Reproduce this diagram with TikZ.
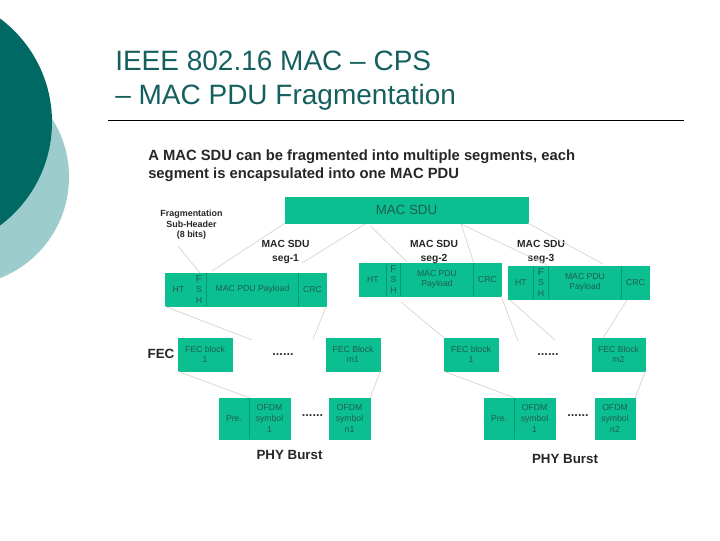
\documentclass[tikz,border=0pt]{standalone}
\usepackage{fontspec}
\setmainfont{Liberation Sans}
\definecolor{darkteal}{HTML}{006964}
\definecolor{paleteal}{HTML}{9CCCCC}
\definecolor{boxgreen}{HTML}{0CBF90}
\definecolor{boxedge}{HTML}{009C76}
\definecolor{boxtext}{HTML}{1E5F50}
\definecolor{linkgrey}{HTML}{D8D2CA}
\definecolor{titleink}{HTML}{15605F}
\tikzset{
  pdubox/.style={draw=boxgreen,fill=boxgreen,line width=0.4pt,inner sep=0pt,align=center,
    text=boxtext,font=\fontsize{6.5}{8}\selectfont},
  caption/.style={align=center,inner sep=0pt,font=\fontsize{7.7}{10}\bfseries\selectfont,text=black!85},
  link/.style={draw=linkgrey,line width=0.5pt},
  divider/.style={draw=boxedge,line width=0.5pt},
  gapdots/.style={inner sep=0pt,font=\fontsize{9.5}{10}\bfseries\selectfont,text=black!80},
  titleline/.style={anchor=base west,inner sep=0pt,text=titleink,font=\fontsize{21}{24}\selectfont},
  introline/.style={anchor=base west,inner sep=0pt,font=\fontsize{11.1}{13}\bfseries\selectfont,text=black!85},
}
\newcommand{\fshtext}{\fontsize{7.5}{8.8}\selectfont F\\S\\H}
% box given by its pixel corners: name, x0, y0, x1, y1, text
\newcommand{\pixbox}[6]{%
  \pgfmathsetmacro{\bw}{(#4-#2)*0.75}%
  \pgfmathsetmacro{\bh}{(#5-#3)*0.75}%
  \node[pdubox,minimum width=\bw pt,minimum height=\bh pt] (#1) at ({(#2+#4)/2},{(#3+#5)/2}) {#6};%
}
\begin{document}
\begin{tikzpicture}[x=0.75pt,y=-0.75pt]
\useasboundingbox (0,0) rectangle (720,540);

% Background discs
\begin{scope}
\clip (0,0) rectangle (720,540);
\fill[paleteal] (-39.5,177) circle[radius=81.4pt];
\fill[darkteal] (-77,122) circle[radius=96.75pt];
\end{scope}

% Title
\node[titleline] (title1) at (115,70) {IEEE 802.16 MAC – CPS};
\node[titleline] (title2) at (115,104) {– MAC PDU Fragmentation};
\coordinate (ruleL) at (108,120.5);
\coordinate (ruleR) at (684,120.5);
\draw[black,line width=0.6pt] (ruleL) -- (ruleR);

% Intro text
\node[introline] (introa) at (148,160) {A MAC SDU can be fragmented into multiple segments, each};
\node[introline] (introb) at (148,178) {segment is encapsulated into one MAC PDU};

% MAC SDU
\pixbox{sdu}{285}{197}{528}{223}{\fontsize{10}{11}\selectfont MAC SDU}

% Segment 1
\pixbox{aht}{165}{273}{192}{306}{HT}
\pixbox{afsh}{192}{273}{206}{306}{\fshtext}
\pixbox{apay}{206}{273}{299}{306}{MAC PDU Payload}
\pixbox{acrc}{299}{273}{326}{306}{CRC}
\draw[divider] (afsh.north east) -- (afsh.south east);
\draw[divider] (acrc.north west) -- (acrc.south west);

% Segment 2
\pixbox{bht}{359}{263}{387}{296}{HT}
\pixbox{bfsh}{387}{263}{400}{296}{\fshtext}
\pixbox{bpay}{400}{263}{474}{296}{MAC PDU\\Payload}
\pixbox{bcrc}{474}{263}{501}{296}{CRC}
\draw[divider] (bfsh.north west) -- (bfsh.south west);
\draw[divider] (bfsh.north east) -- (bfsh.south east);
\draw[divider] (bcrc.north west) -- (bcrc.south west);

% Segment 3
\pixbox{cht}{508}{266}{534}{299}{HT}
\pixbox{cfsh}{534}{266}{548}{299}{\fshtext}
\pixbox{cpay}{548}{266}{622}{299}{MAC PDU\\Payload}
\pixbox{ccrc}{622}{266}{649}{299}{CRC}
\draw[divider] (cfsh.north west) -- (cfsh.south west);
\draw[divider] (cfsh.north east) -- (cfsh.south east);
\draw[divider] (ccrc.north west) -- (ccrc.south west);

% FEC blocks
\pixbox{fa}{178}{338}{232}{371}{FEC block\\1}
\pixbox{fb}{326}{338}{380}{371}{FEC Block\\m1}
\pixbox{fc}{444}{338}{498}{371}{FEC block\\1}
\pixbox{fd}{592}{338}{645}{371}{FEC Block\\m2}

% OFDM symbols
\pixbox{pa}{219}{398}{249}{439}{Pre.}
\pixbox{oa}{249}{398}{290}{439}{OFDM\\symbol\\1}
\pixbox{ob}{329}{398}{370}{439}{OFDM\\symbol\\n1}
\pixbox{pc}{484}{398}{514}{439}{Pre.}
\pixbox{oc}{514}{398}{555}{439}{OFDM\\symbol\\1}
\pixbox{od}{595}{398}{635}{439}{OFDM\\symbol\\n2}
\draw[divider] (pa.north east) -- (pa.south east);
\draw[divider] (pc.north east) -- (pc.south east);

% Labels
\node[caption,font=\fontsize{6.7}{8}\bfseries\selectfont] (fragnote) at (191.5,225) {Fragmentation\\Sub-Header\\(8 bits)};
\node[caption] (seglabela) at (285.5,252) {MAC SDU\\seg-1};
\node[caption] (seglabelb) at (434,252) {MAC SDU\\seg-2};
\node[caption] (seglabelc) at (541,252) {MAC SDU\\seg-3};
\node[caption,font=\fontsize{10}{11}\bfseries\selectfont] (feclabel) at (161,354) {FEC};
\node[caption,font=\fontsize{10}{11}\bfseries\selectfont] (burstlabela) at (289.5,455) {PHY Burst};
\node[caption,font=\fontsize{10}{11}\bfseries\selectfont] (burstlabelb) at (565,458.5) {PHY Burst};
\node[gapdots] (gapa) at (283,354.5) {......};
\node[gapdots] (gapb) at (548,354.5) {......};
\node[gapdots] (gapc) at (312.5,416) {......};
\node[gapdots] (gapd) at (578,416) {......};

% Free ends of the broken leader lines
\coordinate (s1) at (212,271);
\coordinate (s2top) at (365,224);
\coordinate (s2) at (302,263);
\coordinate (s3top) at (370,225.5);
\coordinate (s3end) at (407,262);
\coordinate (s4top) at (461,224);
\coordinate (s5) at (547,265);
\coordinate (s6) at (603,264);
\coordinate (fragtip) at (178,246);
\coordinate (fragend) at (200,273);
\coordinate (d1) at (252,340);
\coordinate (d2) at (313,339);
\coordinate (d3) at (401,302);
\coordinate (d4) at (518,341);
\coordinate (d5) at (510,300);
\coordinate (d6) at (555,340);
\coordinate (d7) at (627,300);
\coordinate (d8) at (603,338);

% Leader lines
\draw[link] (fragtip) -- (fragend);
\draw[link] (sdu.south west) -- (s1);
\draw[link] (s2top) -- (s2);
\draw[link] (s3top) -- (s3end);
\draw[link] (s4top) -- (bcrc.north west);
\draw[link] (s4top) -- (s5);
\draw[link] (sdu.south east) -- (s6);
\draw[link] (aht.south west) -- (d1);
\draw[link] (acrc.south east) -- (d2);
\draw[link] (d3) -- (fc.north west);
\draw[link] (bcrc.south east) -- (d4);
\draw[link] (d5) -- (d6);
\draw[link] (d7) -- (d8);
\draw[link] (fa.south west) -- (pa.north east);
\draw[link] (fb.south east) -- (ob.north east);
\draw[link] (fc.south west) -- (pc.north east);
\draw[link] (fd.south east) -- (od.north east);
\end{tikzpicture}
\end{document}
